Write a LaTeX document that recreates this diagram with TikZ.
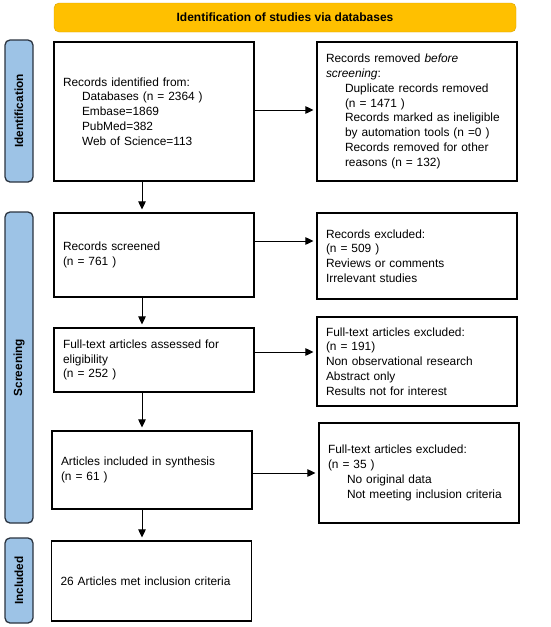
\documentclass[tikz,border=0pt]{standalone}
\usepackage{fontspec}
\setmainfont{Liberation Sans}
\usepackage{xcolor}
\usetikzlibrary{arrows.meta,positioning,calc}
\definecolor{headgold}{HTML}{FFC000}
\definecolor{headedge}{HTML}{D9A300}
\definecolor{phaseblue}{HTML}{9DC3E6}
\definecolor{phaseedge}{HTML}{2B3440}
\tikzset{
  record/.style={
    draw,
    line width=1.1pt,
    minimum width=200pt,
    text width=182pt,
    inner xsep=9pt,
    align=left,
    font=\fontsize{11.9}{14.8}\selectfont
  },
  head/.style={
    draw=headedge,
    rounded corners=5pt,
    fill=headgold,
    minimum width=462pt,
    minimum height=29pt,
    font=\fontsize{12}{14}\selectfont\bfseries
  },
  phase/.style={
    draw=phaseedge,
    line width=1.3pt,
    rounded corners=5pt,
    fill=phaseblue,
    minimum width=28pt
  },
  phasetext/.style={rotate=90, font=\fontsize{11.8}{13}\selectfont\bfseries},
  flow/.style={-{Triangle[length=8pt,width=7.5pt]}, line width=0.9pt, shorten >=3pt}
}
\newcommand{\ind}{\hspace*{19pt}}

\begin{document}
\begin{tikzpicture}[x=1pt,y=-1pt]
  \useasboundingbox (0,0) rectangle (550,627);

  \node[head] (title) at (285,17.5) {Identification of studies via databases};

  % phase bars on the left
  \node[phase, minimum height=142pt] (pident) at (19,111) {};
  \node[phasetext] (tident) at (pident) {Identification};
  \node[phase, minimum height=311pt] (pscreen) at (19,367.5) {};
  \node[phasetext] (tscreen) at (pscreen) {Screening};
  \node[phase, minimum height=85pt] (pincl) at (19,580.5) {};
  \node[phasetext] (tincl) at (pincl) {Included};

  % main column
  \node[record, minimum height=139pt] (found) at (154,111.5) {Records identified from:\\
    \ind Databases (n = 2364 )\\
    \ind Embase=1869\\
    \ind PubMed=382\\
    \ind Web of Science=113};
  \node[record, minimum height=84pt] (screened) at (154,255) {Records screened\\(n = 761 )};
  \node[record, minimum height=64pt] (assessed) at (154,360) {Full-text articles assessed for\\eligibility\\(n = 252 )};
  \node[record, minimum height=78pt] (synth) at (152,470) {Articles included in synthesis\\(n = 61 )};
  \node[record, minimum height=80pt] (final) at (151.5,581) {26 Articles met inclusion criteria};

  % exclusion column
  \node[record, minimum height=139pt] (removed) at (417,111.5) {Records removed \textit{before}\\\textit{screening}:\\
    \ind Duplicate records removed\\
    \ind (n = 1471 )\\
    \ind Records marked as ineligible\\
    \ind by automation tools (n =0 )\\
    \ind Records removed for other\\
    \ind reasons (n = 132)};
  \node[record, minimum height=86pt] (excl1) at (417,256) {Records excluded:\\(n = 509 )\\Reviews or comments\\Irrelevant studies};
  \node[record, minimum height=89pt] (excl2) at (417,361.5) {Full-text articles excluded:\\(n = 191)\\Non observational research\\Abstract only\\Results not for interest};
  \node[record, minimum height=100pt] (excl3) at (419,473) {Full-text articles excluded:\\(n = 35 )\\
    \ind No original data\\
    \ind Not meeting inclusion criteria};

  \coordinate (spine) at (142,0);

  \draw[flow] (found.south -| spine) -- (screened.north -| spine);
  \draw[flow] (screened.south -| spine) -- (assessed.north -| spine);
  \draw[flow] (assessed.south -| spine) -- (synth.north -| spine);
  \draw[flow] (synth.south -| spine) -- (final.north -| spine);

  \draw[flow] ([yshift=1.5pt]found.east) -- ([yshift=1.5pt]found.east -| removed.west);
  \draw[flow] ([yshift=14pt]screened.east) -- ([yshift=14pt]screened.east -| excl1.west);
  \draw[flow] ([yshift=8pt]assessed.east) -- ([yshift=8pt]assessed.east -| excl2.west);
  \draw[flow] ([yshift=-3pt]synth.east) -- ([yshift=-3pt]synth.east -| excl3.west);
\end{tikzpicture}
\end{document}
